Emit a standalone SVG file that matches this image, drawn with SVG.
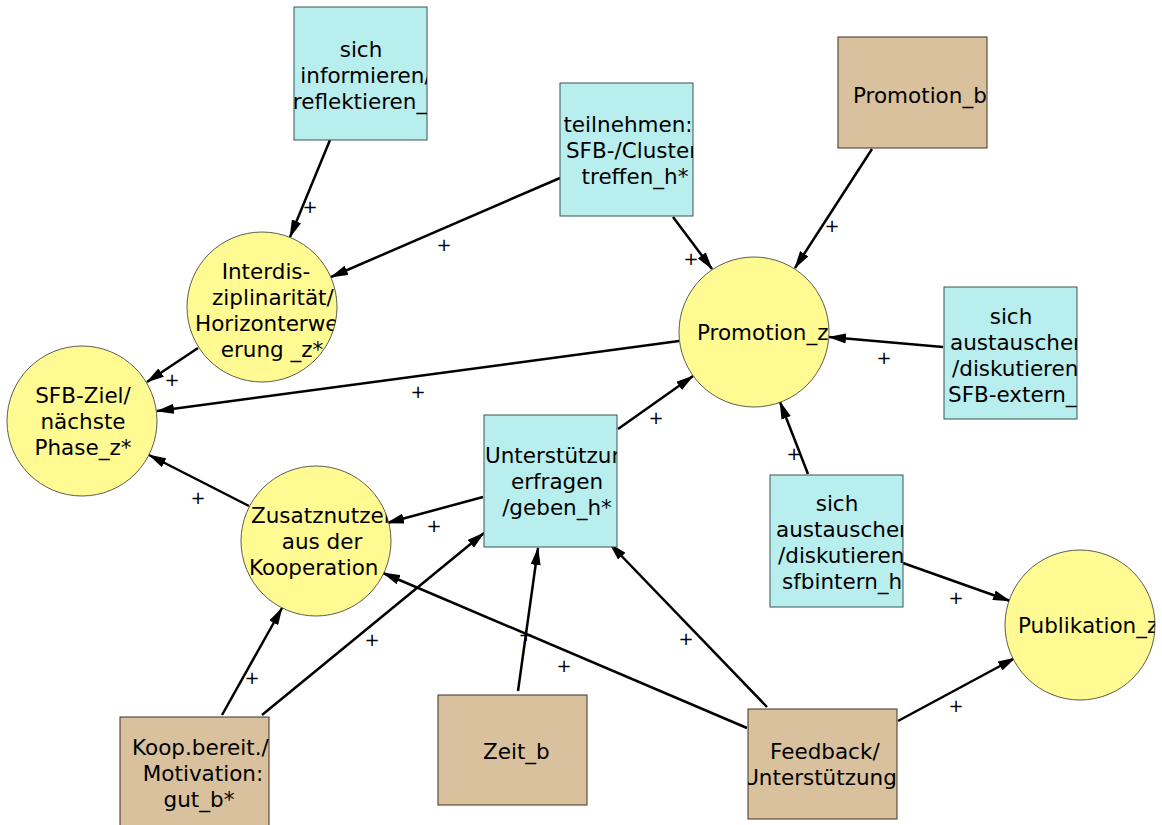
<svg xmlns="http://www.w3.org/2000/svg" width="1162" height="825" viewBox="0 0 1162 825">
<style>
.box-c{fill:#b8eeee;stroke:#3a5555;stroke-width:1}
.box-b{fill:#d9c19d;stroke:#3d3324;stroke-width:1}
.circ{fill:#fffa91;stroke:#333;stroke-width:0.8}
.t{font-family:"DejaVu Sans",sans-serif;font-size:21.5px;fill:#000}
.m{text-anchor:middle}
.e{stroke:#000;stroke-width:2.5;fill:none;marker-end:url(#ah)}
.p{font-family:"DejaVu Sans",sans-serif;font-size:18px;fill:#000;text-anchor:middle}
</style>
<defs>
<marker id="ah" markerUnits="userSpaceOnUse" markerWidth="18" markerHeight="10" refX="17" refY="5" orient="auto">
<path d="M0,0 L18,5 L0,10 z" fill="#000"/>
</marker>
<clipPath id="c1"><rect x="294" y="7" width="133" height="133"/></clipPath>
<clipPath id="c2"><rect x="560" y="83" width="133" height="133"/></clipPath>
<clipPath id="c3"><rect x="838" y="37" width="149" height="111"/></clipPath>
<clipPath id="c4"><circle cx="754" cy="332" r="75"/></clipPath>
<clipPath id="c5"><rect x="944" y="287" width="133" height="132"/></clipPath>
<clipPath id="c6"><rect x="770" y="475" width="133" height="132"/></clipPath>
<clipPath id="c7"><circle cx="1080" cy="625" r="75"/></clipPath>
<clipPath id="c8"><rect x="748" y="709" width="149" height="110"/></clipPath>
<clipPath id="c9"><rect x="438" y="695" width="149" height="110"/></clipPath>
<clipPath id="c10"><rect x="484" y="415" width="133" height="132"/></clipPath>
<clipPath id="c11"><rect x="120" y="717" width="149" height="110"/></clipPath>
<clipPath id="c12"><circle cx="316" cy="541" r="75"/></clipPath>
<clipPath id="c13"><circle cx="82" cy="421" r="75"/></clipPath>
<clipPath id="c14"><circle cx="262" cy="307" r="75"/></clipPath>
</defs>
<rect width="1162" height="825" fill="#fff"/>

<g id="connectors">
<line class="e" x1="330" y1="140" x2="290" y2="237"/>
<line class="e" x1="560" y1="178" x2="331" y2="277"/>
<line class="e" x1="673" y1="217" x2="712" y2="269"/>
<line class="e" x1="872" y1="149" x2="795" y2="268"/>
<line class="e" x1="943" y1="347" x2="829" y2="337"/>
<line class="e" x1="808" y1="474" x2="780" y2="402"/>
<line class="e" x1="903" y1="563" x2="1010" y2="601"/>
<line class="e" x1="898" y1="721" x2="1015" y2="658"/>
<line class="e" x1="767" y1="707" x2="610" y2="544"/>
<line class="e" x1="747" y1="728" x2="383" y2="573"/>
<line class="e" x1="518" y1="691" x2="538" y2="548"/>
<line class="e" x1="222" y1="715" x2="282" y2="608"/>
<line class="e" x1="262" y1="715" x2="484" y2="533"/>
<line class="e" x1="483" y1="497" x2="387" y2="523"/>
<line class="e" x1="618" y1="429" x2="693" y2="376"/>
<line class="e" x1="679" y1="341" x2="157" y2="411"/>
<line class="e" x1="249" y1="506" x2="149" y2="455"/>
<line class="e" x1="198" y1="348" x2="147" y2="382"/>
<text class="p" x="310" y="213">+</text>
<text class="p" x="444" y="251">+</text>
<text class="p" x="691" y="265">+</text>
<text class="p" x="832" y="232">+</text>
<text class="p" x="884" y="364">+</text>
<text class="p" x="794" y="460">+</text>
<text class="p" x="956" y="604">+</text>
<text class="p" x="956" y="712">+</text>
<text class="p" x="686" y="645">+</text>
<text class="p" x="564" y="672">+</text>
<text class="p" x="526" y="641">+</text>
<text class="p" x="252" y="684">+</text>
<text class="p" x="372" y="646">+</text>
<text class="p" x="434" y="532">+</text>
<text class="p" x="656" y="424">+</text>
<text class="p" x="418" y="398">+</text>
<text class="p" x="198" y="504">+</text>
<text class="p" x="172" y="386">+</text>
</g>

<g id="n-informieren">
<rect class="box-c" x="294" y="7" width="133" height="133"/>
<g clip-path="url(#c1)" class="t m">
<text x="361" y="57">sich</text>
<text x="366" y="83">informieren/</text>
<text x="360" y="109">reflektieren_</text>
</g>
</g>

<g id="n-teilnehmen">
<rect class="box-c" x="560" y="83" width="133" height="133"/>
<g clip-path="url(#c2)" class="t m">
<text x="628" y="132">teilnehmen:</text>
<text x="632" y="158">SFB-/Cluster</text>
<text x="635" y="184">treffen_h*</text>
</g>
</g>

<g id="n-promotion-b">
<rect class="box-b" x="838" y="37" width="149" height="111"/>
<g clip-path="url(#c3)" class="t">
<text x="853" y="103">Promotion_b</text>
</g>
</g>

<g id="n-promotion-z">
<circle class="circ" cx="754" cy="332" r="75"/>
<g clip-path="url(#c4)" class="t">
<text x="697" y="340">Promotion_z</text>
</g>
</g>

<g id="n-sfb-extern">
<rect class="box-c" x="944" y="287" width="133" height="132"/>
<g clip-path="url(#c5)" class="t">
<text class="m" x="1011" y="324">sich</text>
<text x="950" y="350">austauschen</text>
<text x="952" y="376">/diskutieren</text>
<text x="948" y="402">SFB-extern_</text>
</g>
</g>

<g id="n-sfbintern">
<rect class="box-c" x="770" y="475" width="133" height="132"/>
<g clip-path="url(#c6)" class="t">
<text class="m" x="837" y="511">sich</text>
<text x="776" y="537">austauschen</text>
<text x="778" y="563">/diskutieren</text>
<text x="782" y="589">sfbintern_h</text>
</g>
</g>

<g id="n-publikation">
<circle class="circ" cx="1080" cy="625" r="75"/>
<g clip-path="url(#c7)" class="t">
<text x="1018" y="633">Publikation_z</text>
</g>
</g>

<g id="n-feedback">
<rect class="box-b" x="748" y="709" width="149" height="110"/>
<g clip-path="url(#c8)" class="t">
<text x="770" y="759">Feedback/</text>
<text class="m" x="820" y="785">Unterstützung</text>
</g>
</g>

<g id="n-zeit">
<rect class="box-b" x="438" y="695" width="149" height="110"/>
<g clip-path="url(#c9)" class="t">
<text x="483" y="759">Zeit_b</text>
</g>
</g>

<g id="n-unterstuetzung">
<rect class="box-c" x="484" y="415" width="133" height="132"/>
<g clip-path="url(#c10)" class="t">
<text x="485" y="463">Unterstützung</text>
<text class="m" x="557" y="489">erfragen</text>
<text class="m" x="557" y="515">/geben_h*</text>
</g>
</g>

<g id="n-koop">
<rect class="box-b" x="120" y="717" width="149" height="110"/>
<g clip-path="url(#c11)" class="t">
<text x="132" y="755">Koop.bereit./</text>
<text class="m" x="203" y="781">Motivation:</text>
<text class="m" x="199" y="807">gut_b*</text>
</g>
</g>

<g id="n-zusatznutzen">
<circle class="circ" cx="316" cy="541" r="75"/>
<g clip-path="url(#c12)" class="t">
<text x="251" y="523">Zusatznutzen</text>
<text class="m" x="322" y="549">aus der</text>
<text x="249" y="575">Kooperation</text>
</g>
</g>

<g id="n-sfb-ziel">
<circle class="circ" cx="82" cy="421" r="75"/>
<g clip-path="url(#c13)" class="t m">
<text x="83" y="403">SFB-Ziel/</text>
<text x="83" y="429">nächste</text>
<text x="83" y="455">Phase_z*</text>
</g>
</g>

<g id="n-interdis">
<circle class="circ" cx="262" cy="307" r="75"/>
<g clip-path="url(#c14)" class="t">
<text class="m" x="266" y="279">Interdis-</text>
<text x="212" y="305">ziplinarität/</text>
<text x="195" y="331">Horizonterweit</text>
<text class="m" x="272" y="357">erung _z*</text>
</g>
</g>
</svg>
